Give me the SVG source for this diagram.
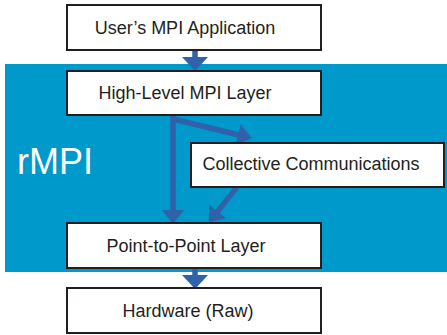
<svg xmlns="http://www.w3.org/2000/svg" width="447" height="335" viewBox="0 0 447 335">
<style>
.box{fill:#ffffff;stroke:#231f20;stroke-width:2}
.lbl{font-family:"Liberation Sans",Arial,sans-serif;font-size:18px;fill:#231f20;text-anchor:middle}
.conn{stroke:#2f62a9;stroke-width:5.5;fill:none}
</style>
<defs>
<marker id="hb" viewBox="0 0 14 26" refX="1" refY="13" markerWidth="14" markerHeight="26" markerUnits="userSpaceOnUse" orient="auto">
<path d="M0,0 L14,13 L0,26 Z" fill="#2f62a9"/>
</marker>
<marker id="hs" viewBox="0 0 14 22" refX="1" refY="11" markerWidth="14" markerHeight="22" markerUnits="userSpaceOnUse" orient="auto">
<path d="M0,0 L14,11 L0,22 Z" fill="#2f62a9"/>
</marker>
</defs>
<rect id="rmpi-region" x="5" y="64" width="442" height="208" fill="#0099cb"/>
<text x="17" y="174" font-family="'Liberation Sans',Arial,sans-serif" font-size="36" fill="#ffffff">rMPI</text>
<g id="connectors">
<line class="conn" x1="195" y1="50" x2="195" y2="58" marker-end="url(#hb)"/>
<line class="conn" x1="173" y1="115" x2="173" y2="211" marker-end="url(#hs)"/>
<path class="conn" d="M173,119 L239,135" marker-end="url(#hs)"/>
<line class="conn" x1="237" y1="187" x2="217" y2="212" marker-end="url(#hs)"/>
<line class="conn" x1="195" y1="268" x2="195" y2="276" marker-end="url(#hb)"/>
</g>
<g id="user-app">
<rect class="box" x="67" y="5" width="254" height="45"/>
<text class="lbl" x="185" y="34">User’s MPI Application</text>
</g>
<g id="high-level">
<rect class="box" x="67" y="71" width="254" height="44"/>
<text class="lbl" x="185" y="99">High-Level MPI Layer</text>
</g>
<g id="collective">
<rect class="box" x="191" y="143" width="253" height="44"/>
<text class="lbl" x="311" y="170">Collective Communications</text>
</g>
<g id="p2p">
<rect class="box" x="67" y="223" width="254" height="45"/>
<text class="lbl" x="186" y="252">Point-to-Point Layer</text>
</g>
<g id="hardware">
<rect class="box" x="67" y="288" width="254" height="45"/>
<text class="lbl" x="188" y="317">Hardware (Raw)</text>
</g>
</svg>
